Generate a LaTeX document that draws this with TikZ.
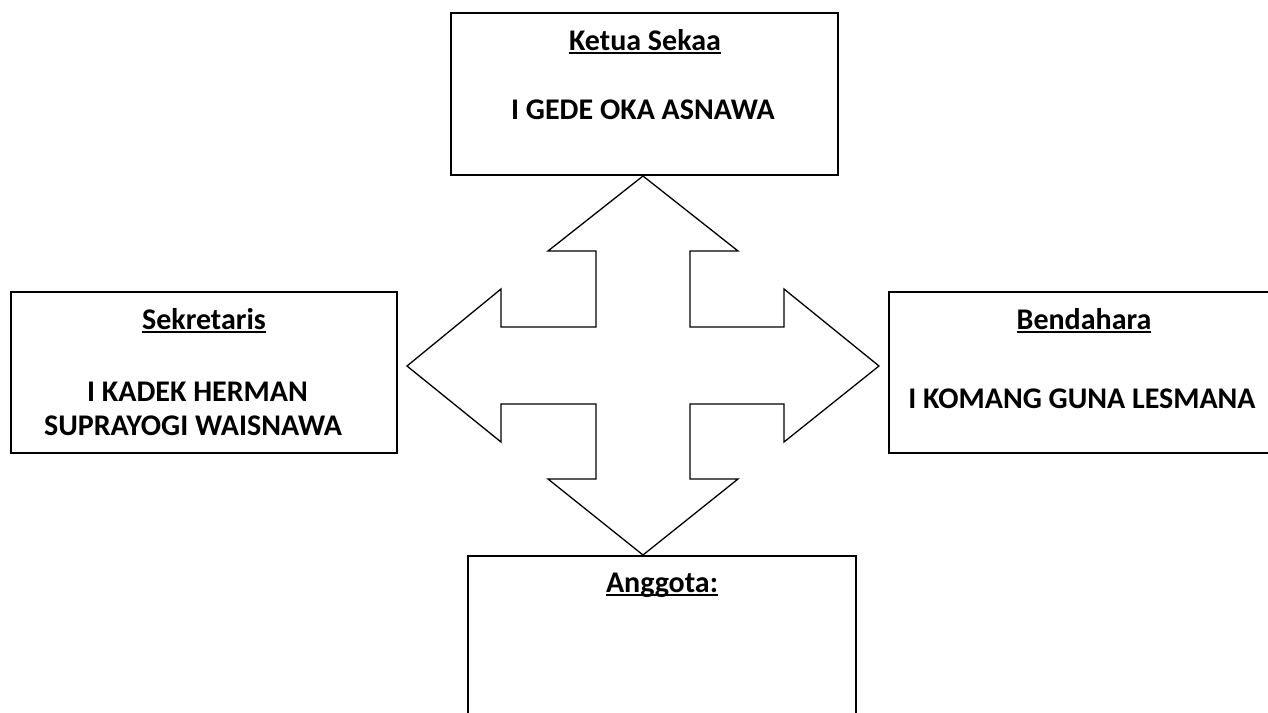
\documentclass[tikz,border=0pt]{standalone}
\usepackage{fontspec}
\setmainfont{Carlito}
\newcommand{\ulx}[1]{\setbox0\hbox{#1}\rlap{\vrule height -0.07em depth 0.13em width \wd0}\box0}
\begin{document}
\begin{tikzpicture}[x=1pt,y=-1pt]
\useasboundingbox (0,0) rectangle (1268,712);
\clip (0,0) rectangle (1268,712);
\tikzset{
  box/.style={draw=black,line width=1.6pt,inner sep=0pt},
  lbl/.style={font=\bfseries\fontsize{30}{36}\selectfont,inner sep=0pt,anchor=base},
  cross/.style={draw=black,line width=1.3pt,line join=miter}
}
\node[box,minimum width=387pt,minimum height=162pt] (ketua) at (644.5,94) {};
\node[box,minimum width=386pt,minimum height=161pt] (sek) at (204,372.5) {};
\node[box,minimum width=401pt,minimum height=161pt] (bend) at (1089.5,372.5) {};
\node[box,minimum width=388pt,minimum height=174pt] (angg) at (662,643) {};

\draw[cross] (643,176) -- (738,251) -- (690,251) -- (690,327) -- (784,327) -- (784,289)
  -- (879,366) -- (784,442) -- (784,404) -- (690,404) -- (690,479) -- (738,479)
  -- (643,555) -- (548,479) -- (596,479) -- (596,404) -- (501,404) -- (501,442)
  -- (407,366) -- (501,289) -- (501,327) -- (596,327) -- (596,251) -- (548,251) -- cycle;

\node[lbl] (t1) at (645,50) {\ulx{Ketua Sekaa}};
\node[lbl] (t2) at (643,119) {I GEDE OKA ASNAWA};
\node[lbl] (s1) at (204,329) {\ulx{Sekretaris}};
\node[lbl] (s2) at (197.5,401) {I KADEK HERMAN};
\node[lbl] (s3) at (193,435) {SUPRAYOGI WAISNAWA};
\node[lbl] (b1) at (1084,329) {\ulx{Bendahara}};
\node[lbl] (b2) at (1082,408) {I KOMANG GUNA LESMANA};
\node[lbl] (a1) at (662,592) {\ulx{Anggota:}};
\end{tikzpicture}
\end{document}
